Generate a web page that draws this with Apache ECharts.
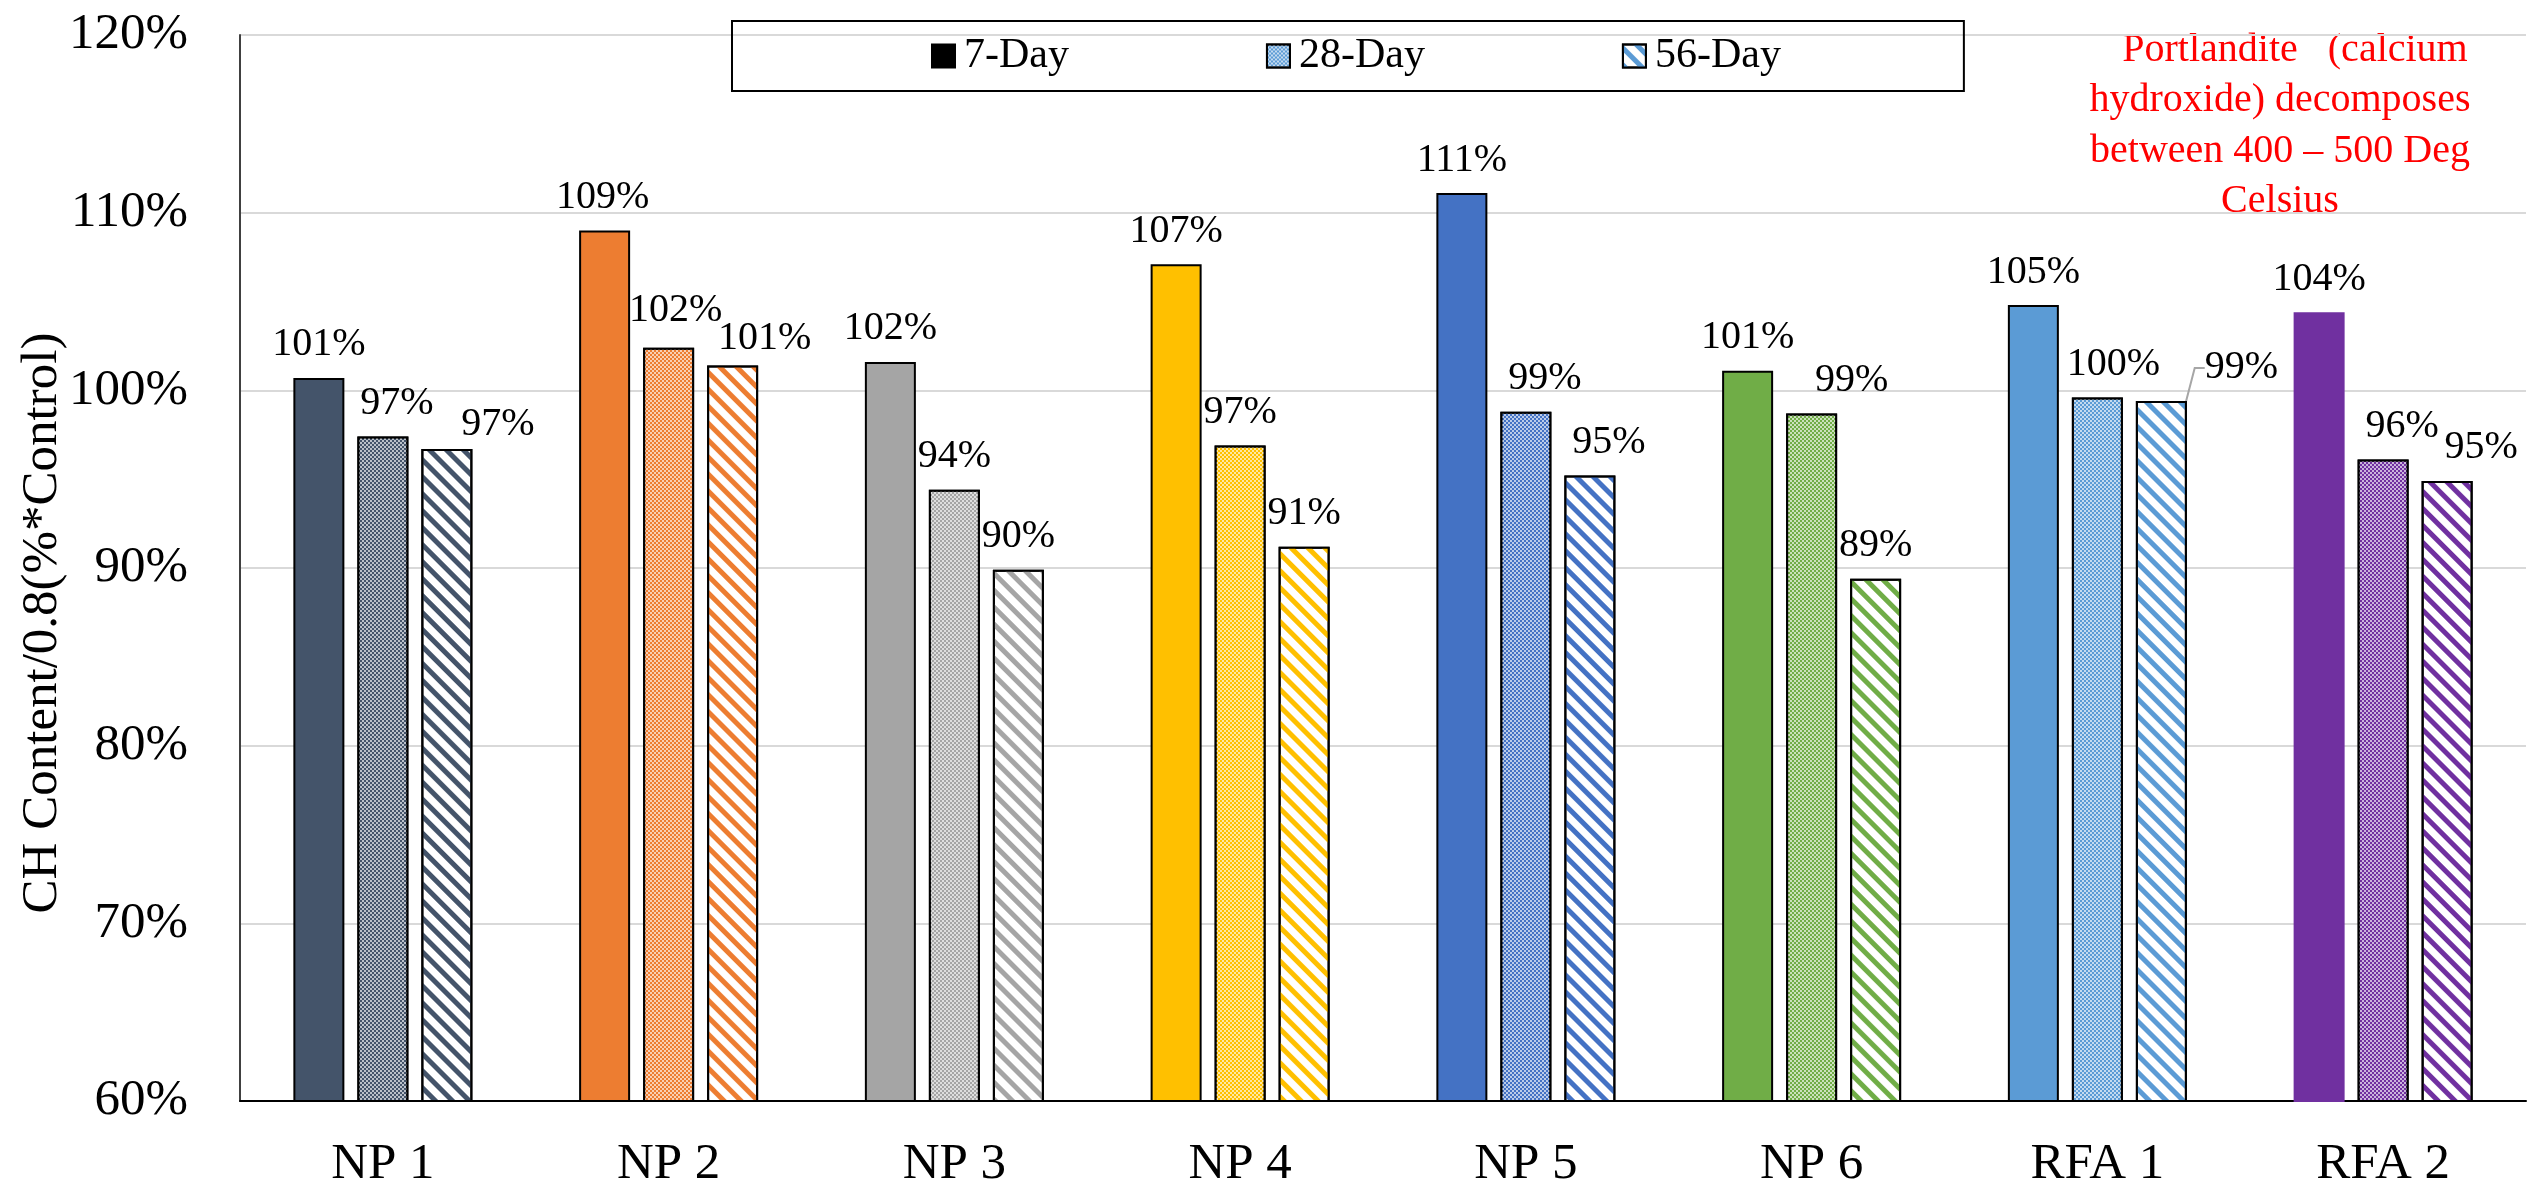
<!DOCTYPE html>
<html>
<head>
<meta charset="utf-8">
<script src="https://cdn.jsdelivr.net/npm/echarts@6/dist/echarts.min.js"></script>
<style>html,body{margin:0;padding:0;background:#fff}#c{width:2534px;height:1196px}</style>
</head>
<body>
<div id="c"></div>
<script>
// ---------- data ----------
const categories = ['NP 1', 'NP 2', 'NP 3', 'NP 4', 'NP 5', 'NP 6', 'RFA 1', 'RFA 2'];
const seriesNames = ['7-Day', '28-Day', '56-Day'];
const day7  = [100.7, 109.0, 101.6, 107.1, 111.1, 101.1, 104.8, 104.4];
const day28 = [97.4, 102.4, 94.4, 96.9, 98.8, 98.7, 99.6, 96.1];
const day56 = [96.7, 101.4, 89.9, 91.2, 95.2, 89.4, 99.4, 94.9];
const yAxisMin = 60, yAxisMax = 120, yAxisStep = 10;
const yAxisTitle = 'CH Content/0.8(%*Control)';
const noteLines = ['   Portlandite   (calcium', 'hydroxide) decomposes', 'between 400 \u2013 500 Deg', 'Celsius'];

// ---------- styles ----------
const categoryColors = ['#44546A', '#ED7D31', '#A5A5A5', '#FFC000', '#4472C4', '#70AD47', '#5B9BD5', '#7030A0'];
const legendBlue = '#5B9BD5';
// label nudges [dx, dy] (labels moved by hand in the original)
const nudge7  = [[0,0],[-2,0],[0,0],[0,0],[0,0],[0,0],[0,0],[0,0]];
const nudge28 = [[14,0],[7,-4],[0,0],[0,0],[19,0],[40,0],[16,0],[19,0]];
const nudge56 = [[51,9],[32,6],[0,0],[0,0],[19,0],[0,0],[80,0],[34,0]];
const leaderIdx56 = 6;

const FONT = '"Liberation Serif", "Times New Roman", serif';
// small checker: white dots on the category colour
const checker = () => ({ symbol: 'rect', symbolSize: 0.85, dashArrayX: [[2, 2], [0, 2, 2, 0]], dashArrayY: [2, 0], rotation: 0, color: '#ffffff' });
// wide downward diagonal stripes in the category colour on white
const stripes = c => ({ symbol: 'rect', symbolSize: 1, dashArrayX: [1, 0], dashArrayY: [4.5, 6.5], rotation: Math.PI / 4, color: c });

const labelBase = {
  show: true, position: 'top', distance: 13,
  fontSize: 40, fontFamily: FONT, color: '#000',
  formatter: p => Math.round(p.value) + '%'
};

function buildData(values, kind, nudges, leaderIdx) {
  return values.map((v, i) => {
    const c = categoryColors[i];
    let itemStyle;
    if (kind === 0) itemStyle = { color: c, borderColor: i === 7 ? c : '#000' };
    else if (kind === 1) itemStyle = { color: c, decal: checker(), borderColor: '#000' };
    else itemStyle = { color: '#fff', decal: stripes(c), borderColor: '#000' };
    const item = { value: v, itemStyle };
    if (nudges) item.label = { offset: nudges[i] };
    if (i === leaderIdx) item.labelLine = { show: true, length2: 10, lineStyle: { color: '#A6A6A6', width: 2 } };
    return item;
  });
}

const chart = echarts.init(document.getElementById('c'), null, { renderer: 'canvas' });
const option = {
  backgroundColor: '#fff',
  animation: false,
  textStyle: { fontFamily: FONT },
  grid: { left: 240, right: 8, top: 35, bottom: 95, containLabel: false },
  legend: {
    data: seriesNames,
    left: 732, top: 21,
    padding: [14, 183, 14, 199],
    itemGap: 197, itemWidth: 23, itemHeight: 23,
    icon: 'rect',
    borderColor: '#000', borderWidth: 2,
    selectedMode: false,
    textStyle: { fontSize: 42, fontFamily: FONT, color: '#000', padding: [0, 0, 0, 4] }
  },
  xAxis: {
    type: 'category',
    data: categories,
    axisLine: { show: true, lineStyle: { color: '#000', width: 2 } },
    axisTick: { show: false },
    axisLabel: { interval: 0, fontSize: 51, fontFamily: FONT, color: '#000', margin: 38 },
    splitLine: { show: false }
  },
  yAxis: {
    type: 'value',
    min: yAxisMin, max: yAxisMax, interval: yAxisStep,
    name: yAxisTitle,
    nameLocation: 'middle',
    nameGap: 172,
    nameMoveOverlap: false,
    nameTextStyle: { fontSize: 51, fontFamily: FONT, color: '#000', padding: [0, 110, 0, 0] },
    axisLine: { show: true, lineStyle: { color: '#404040', width: 2 } },
    axisTick: { show: false },
    axisLabel: { fontSize: 51, fontFamily: FONT, color: '#000', margin: 52, formatter: '{value}%' },
    splitLine: { show: true, lineStyle: { color: '#D9D9D9', width: 2 } }
  },
  series: [
    {
      name: seriesNames[0], type: 'bar', barWidth: 51, barGap: '25.5%',
      itemStyle: { color: '#000', borderColor: '#000', borderWidth: 2 },
      label: labelBase,
      data: buildData(day7, 0, nudge7, -1)
    },
    {
      name: seriesNames[1], type: 'bar', barWidth: 51, barGap: '25.5%',
      itemStyle: { color: legendBlue, decal: checker(), borderColor: '#000', borderWidth: 2 },
      label: labelBase,
      data: buildData(day28, 1, nudge28, -1)
    },
    {
      name: seriesNames[2], type: 'bar', barWidth: 51, barGap: '25.5%',
      itemStyle: { color: '#fff', decal: stripes(legendBlue), borderColor: '#000', borderWidth: 2 },
      label: labelBase,
      labelLayout: p => {
        const n = nudge56[p.dataIndex];
        if (p.dataIndex === leaderIdx56) {
          return {
            x: p.labelRect.x + p.labelRect.width / 2 + n[0],
            y: p.labelRect.y + p.labelRect.height / 2 + n[1],
            align: 'center', verticalAlign: 'middle'
          };
        }
        return { dx: n[0], dy: n[1] };
      },
      data: buildData(day56, 2, null, leaderIdx56)
    }
  ],
  graphic: [{
    type: 'text', x: 2280, y: 25, silent: true,
    style: {
      text: noteLines.join('\n'),
      fill: '#FF0000', fontSize: 40, fontFamily: FONT,
      align: 'center', verticalAlign: 'top', lineHeight: 50.5
    }
  }]
};
chart.setOption(option);
</script>
</body>
</html>
